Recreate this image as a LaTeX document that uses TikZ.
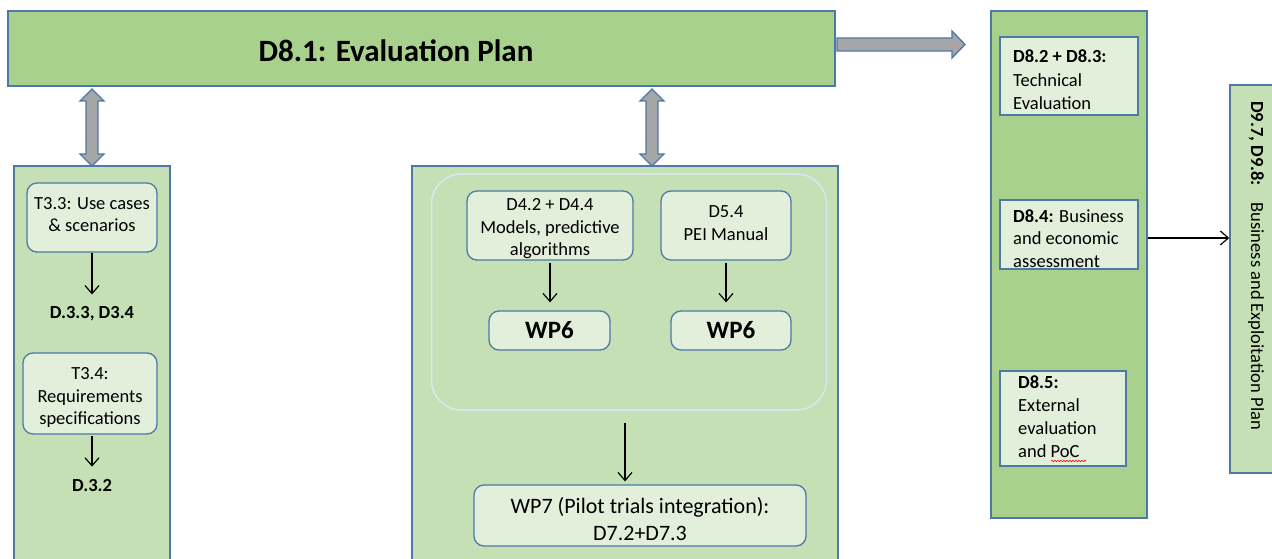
\documentclass[tikz,border=0pt]{standalone}
\usepackage{fontspec}
\setmainfont{Carlito}
\usetikzlibrary{arrows.meta,decorations.pathmorphing}

\definecolor{gmain}{HTML}{A9D18E}
\definecolor{glight}{HTML}{C5E0B4}
\definecolor{gpale}{HTML}{E2EFDA}
\definecolor{bline}{HTML}{4E78A8}
\definecolor{framecol}{HTML}{D8E7F4}
\definecolor{shaftcol}{HTML}{A6A6A6}

\tikzset{
  panel/.style={draw=bline, line width=1.5pt, inner sep=0pt},
  item/.style={draw=bline, line width=1.3pt, fill=gpale, rounded corners=10pt,
    inner sep=0pt, align=center, font=\fontsize{18.5}{22.5}\selectfont},
  sqitem/.style={draw=bline, line width=1.5pt, fill=gpale, inner sep=0pt},
  wpitem/.style={item, font=\fontsize{25}{30}\selectfont\bfseries},
  deliv/.style={inner sep=2pt, font=\fontsize{18.5}{22.5}\selectfont\bfseries},
  note/.style={anchor=base west, inner sep=0pt, font=\fontsize{18.5}{23.3}\selectfont},
  flow/.style={-{Straight Barb[length=8pt,width=14pt]}, line width=1.2pt},
  blockarrow/.style={draw=bline, line width=1.3pt, fill=shaftcol, line join=miter},
}

% vertical two-headed block arrow: x, top tip, bottom tip
\newcommand\vblockarrow[3]{%
  \draw[blockarrow] (#1,#2) -- (#1+12,#2+12) -- (#1+6,#2+12) -- (#1+6,#3-12)
    -- (#1+12,#3-12) -- (#1,#3) -- (#1-12,#3-12) -- (#1-6,#3-12)
    -- (#1-6,#2+12) -- (#1-12,#2+12) -- cycle;}
% centred lines at the current baseline skip, moved up by #1 inside their box
\newcommand\liftlines[2]{\raisebox{#1}[\height][\depth]{\begin{tabular}{@{}c@{}}#2\end{tabular}}}

\begin{document}
\begin{tikzpicture}[x=1pt,y=-1pt]
\useasboundingbox (0,0) rectangle (1272,559);
\clip (0,0) rectangle (1272,559);

% evaluation plan banner
\node[panel, fill=gmain, minimum width=827pt, minimum height=75pt] (plan) at (421.5,48.5) {};
\node[inner sep=0pt, font=\fontsize{31}{37}\selectfont\bfseries] (plantitle) at (396,50.5) {D8.1: Evaluation Plan};

% left column: WP3 tasks
\node[panel, fill=glight, minimum width=156pt, minimum height=410pt] (lcol) at (92,371) {};
\node[item, minimum width=130pt, minimum height=69pt] (t33) at (92,217.5) {\liftlines{1.5pt}{T3.3: Use cases\\\& scenarios}};
\node[deliv] (d33) at (92,314) {D.3.3, D3.4};
\node[item, minimum width=134pt, minimum height=81pt] (t34) at (90,393.5) {\liftlines{-4pt}{T3.4:\\Requirements\\specifications}};
\node[deliv] (d32) at (92,485) {D.3.2};
\draw[flow, shorten >=10pt] (t33.south) -- (d33.north);
\draw[flow, shorten <=1pt, shorten >=10pt] (d32.north |- t34.south) -- (d32.north);

% middle column: WP4-WP7
\node[panel, fill=glight, minimum width=426pt, minimum height=410pt] (mcol) at (625,371) {};
\node[draw=framecol, line width=1.5pt, rounded corners=30pt, minimum width=395pt,
      minimum height=236pt, inner sep=0pt] (grp) at (629,292) {};
\node[item, minimum width=166pt, minimum height=69pt] (d42) at (550,225.5)
  {\liftlines{-3pt}{D4.2 + D4.4\\Models, predictive\\algorithms}};
\node[item, minimum width=130pt, minimum height=69pt] (d54) at (726,225.5)
  {\liftlines{1pt}{D5.4\\PEI Manual}};
\node[wpitem, minimum width=121pt, minimum height=39pt] (wp6a) at (549.5,330.5) {WP6};
\node[wpitem, minimum width=120pt, minimum height=39pt] (wp6b) at (731,330.5) {WP6};
\node[item, minimum width=332pt, minimum height=61pt, font=\fontsize{22}{26.5}\selectfont] (wp7) at (640,515.5)
  {\liftlines{-6pt}{WP7 (Pilot trials integration):\\D7.2+D7.3}};
\draw[flow, shorten <=2pt, shorten >=8pt] (d42.south) -- (d42.south |- wp6a.north);
\draw[flow, shorten <=2pt, shorten >=8pt] (d54.south) -- (d54.south |- wp6b.north);
\draw[flow, shorten <=12pt, shorten >=3pt] (grp.south -| 625,0) -- (wp7.north -| 625,0);

% links from the banner
\vblockarrow{92}{89}{166}
\vblockarrow{652}{89}{166}
\draw[blockarrow] (837,38) -- (952,38) -- (952,31) -- (965,44.5) -- (952,58)
  -- (952,51) -- (837,51) -- cycle;

% right column: WP8 deliverables
\node[panel, fill=gmain, minimum width=156pt, minimum height=507pt] (rcol) at (1069,264.5) {};
\node[sqitem, minimum width=138pt, minimum height=78pt] (d82) at (1069,76) {};
\node[sqitem, minimum width=138pt, minimum height=69pt] (d84) at (1069,234.5) {};
\node[sqitem, minimum width=126pt, minimum height=95pt] (d85) at (1063,418.5) {};
\node[note] (d82t) at (1013,63) {\parbox[t]{122pt}{\raggedright\textbf{D8.2 + D8.3:}\\Technical\\Evaluation}};
\node[note, font=\fontsize{18.5}{22.6}\selectfont] (d84t) at (1013,222) {\parbox[t]{122pt}{\raggedright\textbf{D8.4:} Business\\and economic\\assessment}};
\node[note] (d85t) at (1018,388) {\parbox[t]{100pt}{\raggedright\textbf{D8.5:}\\External\\evaluation\\and PoC}};
\draw[red, line width=0.6pt, decorate, decoration={snake, amplitude=0.8pt, segment length=3pt}]
  (1051,461) -- (1086,461);

% WP9 exploitation plan
\node[panel, fill=glight, minimum width=50pt, minimum height=388pt] (bplan) at (1255,279) {};
\node[note, rotate=-90] (bplant) at (1251,101) {\textbf{D9.7, D9.8:}\hspace{0.9em}Business and Exploitation Plan};
\draw[flow] (rcol.east |- 0,238) -- (bplan.west |- 0,238);
\end{tikzpicture}
\end{document}
